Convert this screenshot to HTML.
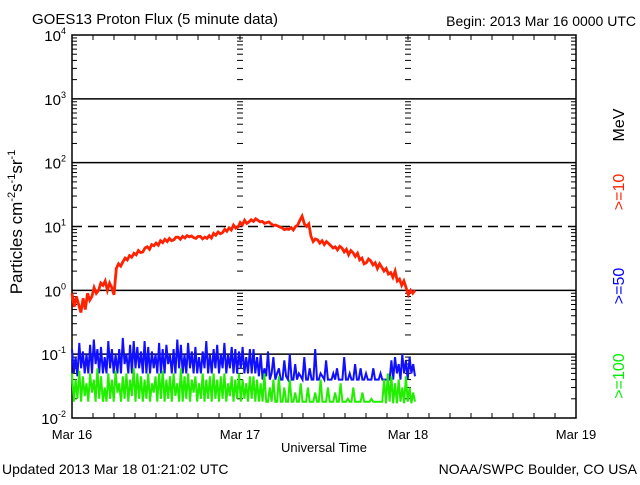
<!DOCTYPE html>
<html><head><meta charset="utf-8">
<style>
body{margin:0;background:#fff;}
svg text{font-family:"Liberation Sans",sans-serif;}
</style></head>
<body>
<svg id="chart" width="640" height="480" xmlns="http://www.w3.org/2000/svg">
<rect width="640" height="480" fill="#fff"/>
<text x="32" y="24" font-size="15">GOES13 Proton Flux (5 minute data)</text>
<text x="636" y="26" font-size="14" text-anchor="end">Begin: 2013 Mar 16 0000 UTC</text>
<text transform="translate(22,222) rotate(-90)" font-size="17" text-anchor="middle">Particles cm<tspan dy="-7" font-size="11">-2</tspan><tspan dy="7">s</tspan><tspan dy="-7" font-size="11">-1</tspan><tspan dy="7">sr</tspan><tspan dy="-7" font-size="11">-1</tspan></text>
<text x="324" y="452" font-size="13" text-anchor="middle">Universal Time</text>
<text x="2" y="474" font-size="14">Updated 2013 Mar 18 01:21:02 UTC</text>
<text x="637" y="474" font-size="14" text-anchor="end">NOAA/SWPC Boulder, CO USA</text>
<text transform="translate(624,125) rotate(-90)" font-size="16" text-anchor="middle">MeV</text>
<text transform="translate(624,192) rotate(-90)" font-size="16" text-anchor="middle" fill="#ff2200">&gt;=10</text>
<text transform="translate(624,286) rotate(-90)" font-size="16" text-anchor="middle" fill="#0000ff">&gt;=50</text>
<text transform="translate(624,376) rotate(-90)" font-size="16" text-anchor="middle" fill="#00ee00">&gt;=100</text>
<g id="axes"></g>
<g id="series"></g>
</svg>
<script>
const dayLabels=["Mar 16","Mar 17","Mar 18","Mar 19"];
const decadeExps=[4,3,2,1,0,-1,-2];
const dataHours=49;
const red=[0.9,0.55,0.8,0.6,0.45,0.75,0.5,0.9,0.7,0.8,1.1,0.9,1.0,1.3,1.2,1.4,1.0,1.3,1.1,0.85,
2.2,2.6,2.4,2.8,3.2,3.0,3.5,3.3,3.8,3.6,4.2,3.9,4.0,4.6,
4.8,4.4,5.2,5.0,5.5,5.1,6.0,5.6,6.3,5.8,6.5,6.0,6.2,6.8,
6.8,6.3,7.0,6.6,7.2,6.9,7.1,6.7,6.5,7.0,
7.0,6.4,6.8,6.5,7.2,6.6,7.8,7.3,8.2,7.7,8.0,9.0,8.4,
9.5,8.8,10.5,9.4,9.8,11.5,10.6,12.5,11.2,11.8,12.8,12.0,13.2,
12.5,11.8,12.0,11.2,11.5,11.8,11.0,10.4,10.5,10.2,9.8,
9.5,8.9,9.2,9.0,9.6,8.8,10.0,10.5,12.5,14.5,11.0,
10.0,11.0,7.0,5.8,6.4,6.2,5.5,6.0,5.2,5.8,5.4,
5.0,4.6,4.8,4.3,4.9,4.6,4.0,4.4,3.6,4.2,3.9,
3.4,3.8,3.0,3.2,2.6,2.7,3.1,2.9,2.5,2.7,2.2,2.6,
2.3,2.0,2.2,1.8,1.9,1.6,2.0,1.4,1.5,1.2,1.4,
1.1,0.85,1.0,0.9,1.0];
const blue=[0.12,0.05,0.09,0.045,0.15,0.06,0.11,0.05,0.1,0.05,0.14,0.05,0.17,0.07,0.12,0.05,0.13,0.05,0.09,0.05,
0.16,0.06,0.12,0.05,0.1,0.05,0.12,0.05,0.18,0.07,0.1,0.05,0.14,0.05,0.16,0.06,0.13,0.06,0.11,0.05,
0.16,0.05,0.13,0.05,0.11,0.06,0.1,0.05,0.15,0.05,0.12,0.05,0.14,0.07,0.1,0.05,0.12,0.05,0.17,0.06,
0.14,0.05,0.1,0.05,0.15,0.06,0.11,0.05,0.13,0.05,0.09,0.05,0.11,0.06,0.16,0.05,0.1,0.05,0.12,0.06,
0.14,0.05,0.1,0.06,0.15,0.05,0.1,0.06,0.13,0.05,0.12,0.05,0.11,0.06,0.13,0.05,0.09,0.05,0.12,0.05,
0.12,0.05,0.09,0.045,0.1,0.04,0.06,0.045,0.11,0.04,0.05,0.09,0.04,0.05,0.06,0.04,0.04,0.08,0.045,0.04,
0.1,0.04,0.04,0.07,0.04,0.05,0.045,0.04,0.09,0.04,0.04,0.06,0.04,0.04,0.12,0.04,0.04,0.05,0.045,0.04,
0.08,0.04,0.04,0.04,0.05,0.04,0.06,0.04,0.04,0.04,0.09,0.04,0.04,0.05,0.04,0.04,0.07,0.04,0.04,0.06,
0.04,0.04,0.05,0.04,0.04,0.04,0.06,0.04,0.04,0.04,0.05,0.04,0.04,0.04,0.04,0.04,0.08,0.04,0.09,0.05,
0.07,0.04,0.1,0.05,0.08,0.04,0.09,0.05,0.07,0.045];
const green=[0.05,0.018,0.04,0.02,0.055,0.018,0.045,0.022,0.035,0.018,0.05,0.025,0.04,0.018,0.06,0.02,0.045,0.018,0.03,0.018,
0.05,0.02,0.04,0.018,0.055,0.025,0.035,0.018,0.045,0.02,0.05,0.018,0.04,0.022,0.06,0.018,0.05,0.02,0.045,0.018,
0.04,0.02,0.05,0.018,0.035,0.025,0.045,0.018,0.05,0.02,0.055,0.018,0.04,0.02,0.045,0.018,0.05,0.022,0.035,0.018,
0.06,0.018,0.045,0.02,0.05,0.018,0.04,0.025,0.045,0.018,0.035,0.02,0.05,0.018,0.04,0.02,0.045,0.018,0.05,0.02,
0.04,0.018,0.045,0.02,0.05,0.018,0.035,0.022,0.045,0.018,0.04,0.02,0.05,0.018,0.04,0.02,0.035,0.018,0.045,0.02,
0.045,0.018,0.04,0.018,0.035,0.018,0.05,0.018,0.018,0.03,0.018,0.04,0.018,0.018,0.045,0.018,0.018,0.03,0.018,0.018,
0.04,0.018,0.018,0.025,0.018,0.018,0.035,0.018,0.018,0.018,0.03,0.018,0.018,0.018,0.025,0.018,0.018,0.04,0.018,0.018,
0.018,0.03,0.018,0.018,0.018,0.025,0.018,0.018,0.035,0.018,0.018,0.018,0.02,0.018,0.018,0.03,0.018,0.018,0.018,0.018,
0.025,0.018,0.018,0.018,0.018,0.02,0.018,0.018,0.018,0.018,0.018,0.018,0.04,0.017,0.05,0.018,0.045,0.017,0.035,0.017,
0.04,0.018,0.03,0.017,0.045,0.018,0.03,0.017,0.025,0.018];

const NS="http://www.w3.org/2000/svg";
const L=72,R=576,T=35,B=418;
const xScale=h=>L+(R-L)*h/72;
const yScale=v=>B-(B-T)*(Math.log10(v)+2)/6;
const axes=document.getElementById('axes'),series=document.getElementById('series');
function mk(tag,attrs,parent){const e=document.createElementNS(NS,tag);for(const k in attrs)e.setAttribute(k,attrs[k]);parent.appendChild(e);return e;}

decadeExps.forEach(ex=>{
  const y=yScale(Math.pow(10,ex));
  if(ex!==4&&ex!==-2){
    const g=mk('line',{x1:L,x2:R,y1:y,y2:y,stroke:'#000','stroke-width':1.5},axes);
    if(ex===1)g.setAttribute('stroke-dasharray','10,6');
    
    
  }
  const t=mk('text',{x:L-6,y:y+6,'font-size':15,'text-anchor':'end'},axes);
  
  
  t.innerHTML='10<tspan dy="-7" font-size="9">'+ex+'</tspan>';
});
for(let ex=-2;ex<4;ex++){for(let m=2;m<=9;m++){
  const y=yScale(m*Math.pow(10,ex));
  mk('line',{x1:L,x2:L+5,y1:y,y2:y,stroke:'#000'},axes);
  mk('line',{x1:R,x2:R-5,y1:y,y2:y,stroke:'#000'},axes);
  [1,2].forEach(d=>{const x=xScale(d*24);mk('line',{x1:x-3,x2:x+3,y1:y,y2:y,stroke:'#000'},axes);});
}}
for(let h=3;h<72;h+=3){
  const x=xScale(h);
  mk('line',{x1:x,x2:x,y1:B,y2:B-5,stroke:'#000'},axes);
  mk('line',{x1:x,x2:x,y1:T,y2:T+5,stroke:'#000'},axes);
}
dayLabels.forEach((lab,i)=>{
  const t=mk('text',{x:xScale(i*24),y:439,'font-size':13,'text-anchor':'middle'},axes);
  t.textContent=lab;
  
  
});
const frame=mk('rect',{x:L,y:T,width:R-L,height:B-T,fill:'none',stroke:'#000','stroke-width':1.5},axes);



function drawSeries(arr,color,name,w){
  const pts=arr.map((v,i)=>xScale(i*dataHours/(arr.length-1)).toFixed(1)+','+yScale(v).toFixed(1)).join(' ');
  const p=mk('polyline',{points:pts,fill:'none',stroke:color,'stroke-width':w,'stroke-linejoin':'miter'},series);
  
  
}
drawSeries(blue,'#1010ff','series-50mev',2);
drawSeries(green,'#22ee00','series-100mev',2);
drawSeries(red,'#ff2200','series-10mev',2.8);
</script>
</body></html>
